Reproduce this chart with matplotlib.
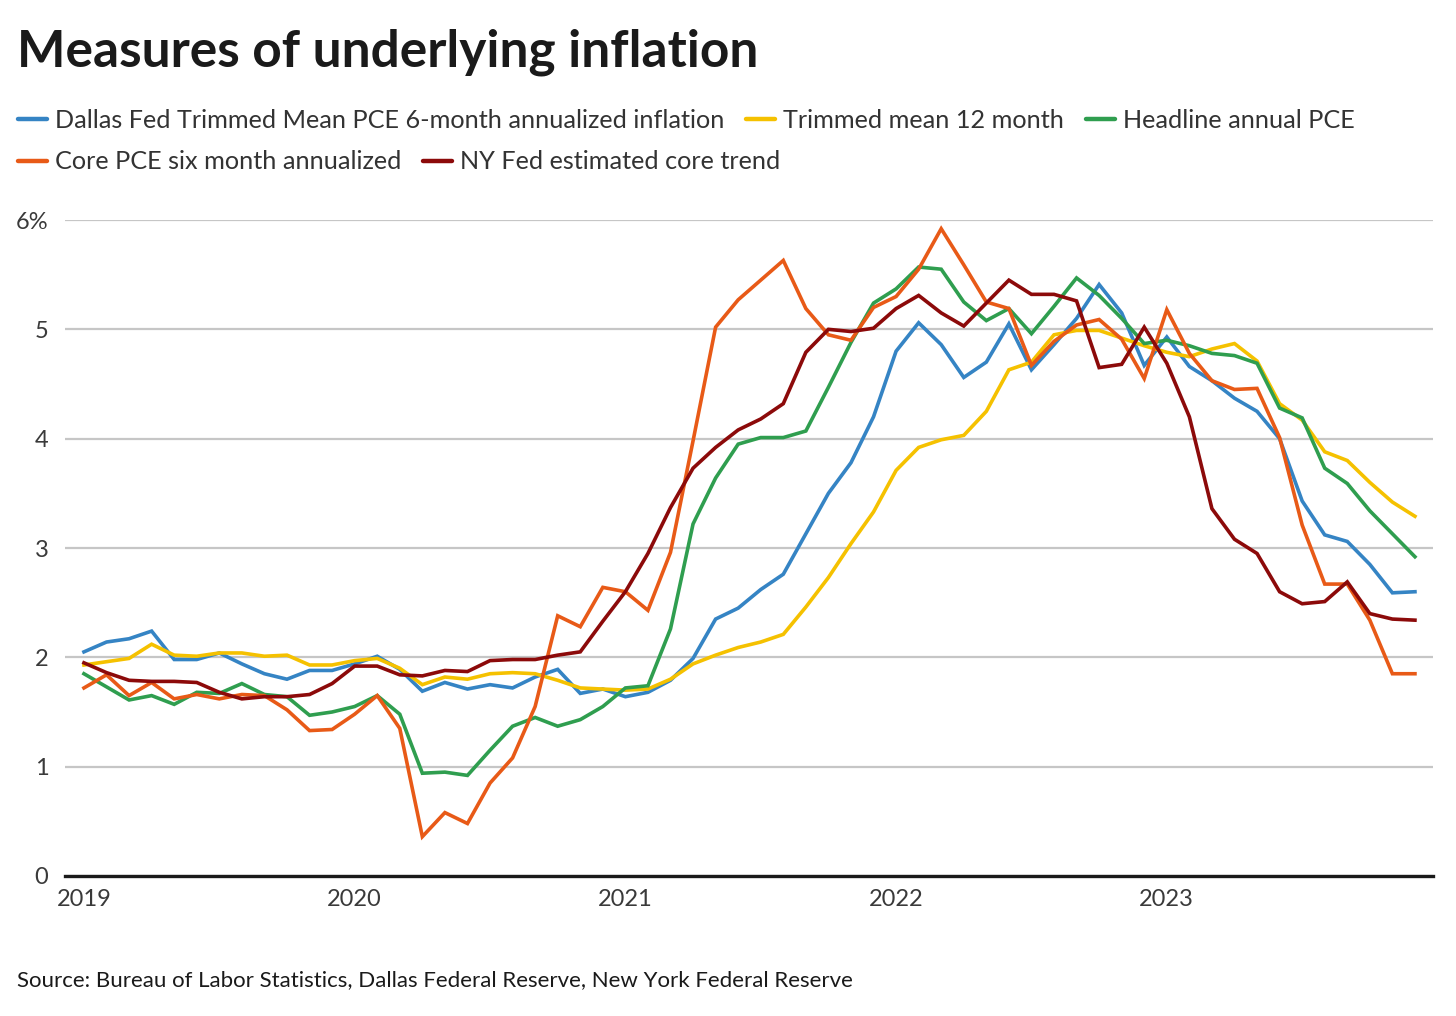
import numpy as np
import matplotlib
matplotlib.use("Agg")
import matplotlib.pyplot as plt
from matplotlib.lines import Line2D

plt.rcParams['font.family'] = ['Lato', 'DejaVu Sans']

# Monthly values, Jan 2019 - Dec 2023 (percent)
years = ["2019", "2020", "2021", "2022", "2023"]

dallas_6m = [
    2.05, 2.14, 2.17, 2.24, 1.98, 1.98, 2.04, 1.94, 1.85, 1.80, 1.88, 1.88,
    1.94, 2.01, 1.89, 1.69, 1.77, 1.71, 1.75, 1.72, 1.82, 1.89, 1.67, 1.71,
    1.64, 1.68, 1.79, 1.99, 2.35, 2.45, 2.62, 2.76, 3.13, 3.50, 3.78, 4.20,
    4.80, 5.06, 4.86, 4.56, 4.70, 5.05, 4.63, 4.86, 5.10, 5.41, 5.15, 4.67,
    4.93, 4.66, 4.53, 4.37, 4.25, 4.00, 3.43, 3.12, 3.06, 2.85, 2.59, 2.60,
]
trimmed_12m = [
    1.93, 1.96, 1.99, 2.12, 2.02, 2.01, 2.04, 2.04, 2.01, 2.02, 1.93, 1.93,
    1.97, 1.99, 1.90, 1.75, 1.82, 1.80, 1.85, 1.86, 1.85, 1.79, 1.72, 1.71,
    1.70, 1.71, 1.80, 1.94, 2.02, 2.09, 2.14, 2.21, 2.46, 2.73, 3.04, 3.33,
    3.71, 3.92, 3.99, 4.03, 4.25, 4.63, 4.70, 4.95, 4.99, 4.99, 4.92, 4.85,
    4.79, 4.75, 4.82, 4.87, 4.71, 4.32, 4.17, 3.88, 3.80, 3.60, 3.42, 3.29,
]
headline_pce = [
    1.85, 1.73, 1.61, 1.65, 1.57, 1.68, 1.67, 1.76, 1.66, 1.64, 1.47, 1.50,
    1.55, 1.65, 1.48, 0.94, 0.95, 0.92, 1.15, 1.37, 1.45, 1.37, 1.43, 1.55,
    1.72, 1.74, 2.26, 3.22, 3.64, 3.95, 4.01, 4.01, 4.07, 4.47, 4.88, 5.24,
    5.37, 5.57, 5.55, 5.25, 5.08, 5.19, 4.96, 5.21, 5.47, 5.31, 5.10, 4.87,
    4.90, 4.85, 4.78, 4.76, 4.69, 4.28, 4.19, 3.73, 3.59, 3.34, 3.13, 2.92,
]
core_6m = [
    1.72, 1.84, 1.65, 1.77, 1.62, 1.66, 1.62, 1.66, 1.65, 1.52, 1.33, 1.34,
    1.48, 1.65, 1.35, 0.36, 0.58, 0.48, 0.85, 1.08, 1.55, 2.38, 2.28, 2.64,
    2.60, 2.43, 2.96, 3.98, 5.02, 5.27, 5.45, 5.63, 5.19, 4.95, 4.90, 5.20,
    5.30, 5.55, 5.92, 5.59, 5.25, 5.19, 4.67, 4.89, 5.04, 5.09, 4.91, 4.55,
    5.18, 4.78, 4.53, 4.45, 4.46, 4.01, 3.21, 2.67, 2.67, 2.34, 1.85, 1.85,
]
nyfed_trend = [
    1.95, 1.86, 1.79, 1.78, 1.78, 1.77, 1.68, 1.62, 1.64, 1.64, 1.66, 1.76,
    1.92, 1.92, 1.84, 1.83, 1.88, 1.87, 1.97, 1.98, 1.98, 2.02, 2.05, 2.33,
    2.60, 2.95, 3.37, 3.73, 3.92, 4.08, 4.18, 4.32, 4.79, 5.00, 4.98, 5.01,
    5.19, 5.31, 5.15, 5.03, 5.24, 5.45, 5.32, 5.32, 5.26, 4.65, 4.68, 5.02,
    4.69, 4.20, 3.36, 3.08, 2.95, 2.60, 2.49, 2.51, 2.69, 2.40, 2.35, 2.34,
]

series = [
    ("Dallas Fed Trimmed Mean PCE 6-month annualized inflation", dallas_6m, "#3584c4"),
    ("Trimmed mean 12 month", trimmed_12m, "#f5c100"),
    ("Headline annual PCE", headline_pce, "#2f9e4f"),
    ("Core PCE six month annualized", core_6m, "#e85a17"),
    ("NY Fed estimated core trend", nyfed_trend, "#8c0a0a"),
]
# draw order (bottom to top) as in the reference
draw_order = [1, 2, 0, 3, 4]

W, H = 1456, 1016
fig = plt.figure(figsize=(W / 100, H / 100), dpi=100, facecolor="white")

def fx(px):
    return px / W

def fy(py):
    return 1 - py / H

ax = fig.add_axes([fx(65), fy(876), fx(1433) - fx(65), fy(220) - fy(876)])

months = np.arange(len(dallas_6m))
for k in draw_order:
    label, vals, color = series[k]
    ax.plot(months, vals, color=color, lw=2.6, solid_joinstyle="miter",
            clip_on=False, zorder=3 + k)

ax.set_xlim(-0.84, 59.8)
ax.set_ylim(0, 6)
ax.set_yticks(range(7))
ax.set_yticklabels(["0", "1", "2", "3", "4", "5", "6%"])
ax.set_xticks(np.arange(0, 60, 12))
ax.set_xticklabels(years)
ax.grid(axis="y", color="#c6c6c6", lw=1.6, zorder=0)
ax.axhline(0, color="#1a1a1a", lw=2.4, zorder=10, clip_on=False)
for s in ax.spines.values():
    s.set_visible(False)
ax.tick_params(axis="both", length=0, labelsize=17, labelcolor="#3a3a3a")
ax.tick_params(axis="y", pad=12)
ax.tick_params(axis="x", pad=9)

# title
fig.text(fx(17), fy(66), "Measures of underlying inflation", fontsize=37,
         fontweight="bold", color="#1a1a1a", va="baseline", ha="left")

# legend, laid out as flowing rows
fig.canvas.draw()
renderer = fig.canvas.get_renderer()
rows = [[0, 1, 2], [3, 4]]
row_y = [120, 162]
for row, yy in zip(rows, row_y):
    x = 18
    for k in row:
        label, vals, color = series[k]
        fig.add_artist(Line2D([fx(x), fx(x + 29)], [fy(yy - 1), fy(yy - 1)], color=color,
                              lw=3.2, solid_capstyle="round"))
        t = fig.text(fx(x + 37), fy(yy), label, fontsize=18.2, color="#333333",
                     va="center", ha="left")
        bb = t.get_window_extent(renderer)
        x = bb.x1 + 22

fig.text(fx(17), fy(980), "Source: Bureau of Labor Statistics, Dallas Federal Reserve, New York Federal Reserve",
         fontsize=16, color="#1a1a1a", va="center", ha="left")

fig.savefig("out.png", dpi=100, facecolor="white")
